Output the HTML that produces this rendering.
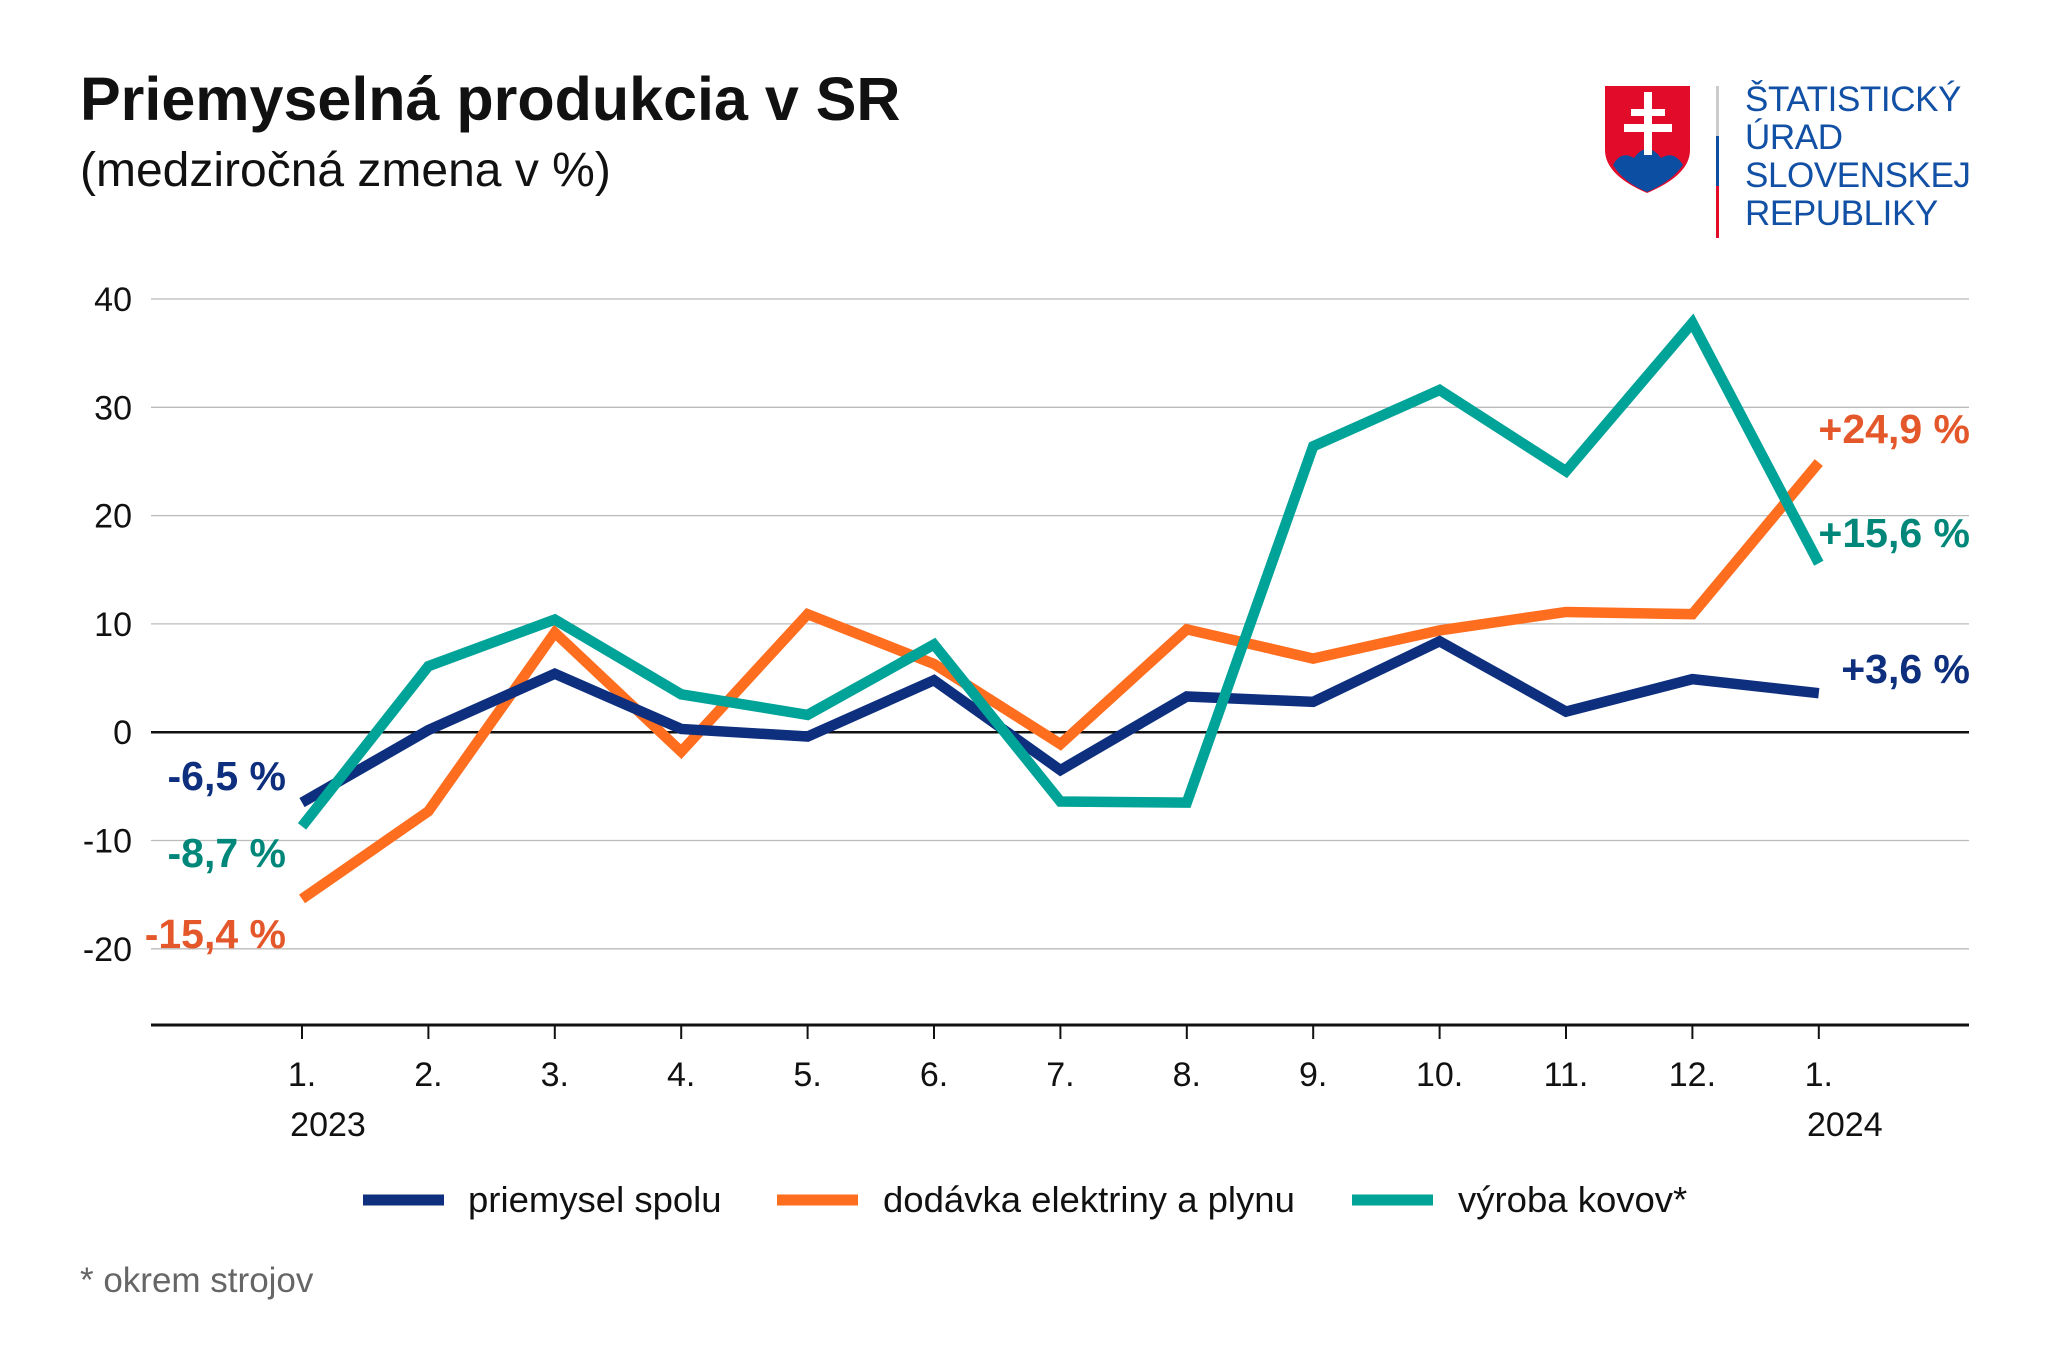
<!DOCTYPE html>
<html><head><meta charset="utf-8"><style>
body{margin:0;background:#fff;}
svg{display:block;font-family:"Liberation Sans",sans-serif;}
</style></head><body>
<svg id="chart" width="2048" height="1365" viewBox="0 0 2048 1365">
<text x="80" y="120" font-size="61" font-weight="bold" fill="#111">Priemyselná produkcia v SR</text>
<text x="80" y="186" font-size="48" fill="#111">(medziročná zmena v %)</text>
<g transform="translate(-9,0)">
<path d="M1614,86 L1699,86 L1699,150 Q1699,175 1656,193 Q1614,175 1614,150 Z" fill="#e30b2a"/>
<path d="M1622,165 Q1630,150 1643,158 Q1656,140 1670,158 Q1683,150 1692,165 Q1680,182 1656,192 Q1632,182 1622,165 Z" fill="#0b4ea2"/>
<rect x="1653" y="92" width="8" height="63" fill="#fff"/>
<rect x="1640" y="109" width="34" height="7" fill="#fff"/>
<rect x="1633" y="124" width="48" height="8" fill="#fff"/>
<rect x="1725" y="86" width="3" height="50" fill="#ccc"/>
<rect x="1725" y="136" width="3" height="50" fill="#0b4ea2"/>
<rect x="1725" y="186" width="3" height="52" fill="#e30b2a"/>
</g>
<g font-size="35" fill="#1150a5" letter-spacing="-0.4">
<text x="1745" y="111">ŠTATISTICKÝ</text>
<text x="1745" y="149">ÚRAD</text>
<text x="1745" y="187">SLOVENSKEJ</text>
<text x="1745" y="225">REPUBLIKY</text>
</g>
<g id="grid"></g><g id="lines"></g><g id="labels"></g>
<g font-size="36.5" fill="#111">
<line x1="363" y1="1200" x2="444" y2="1200" stroke="#0d2f7e" stroke-width="11"/>
<text x="468" y="1212">priemysel spolu</text>
<line x1="777" y1="1200" x2="858" y2="1200" stroke="#ff6d1f" stroke-width="11"/>
<text x="883" y="1212">dodávka elektriny a plynu</text>
<line x1="1352" y1="1200" x2="1433" y2="1200" stroke="#00a397" stroke-width="11"/>
<text x="1458" y="1212">výroba kovov*</text>
</g>
<text x="80" y="1292" font-size="35" fill="#666">* okrem strojov</text>
</svg>
<script>
const months=["1.","2.","3.","4.","5.","6.","7.","8.","9.","10.","11.","12.","1."];
const yTicks=[40,30,20,10,0,-10,-20];
const priemysel=[-6.5,0.2,5.4,0.3,-0.4,4.8,-3.5,3.3,2.8,8.4,1.9,4.9,3.6];
const dodavka=[-15.4,-7.3,9.2,-1.8,10.9,6.3,-1.1,9.5,6.8,9.4,11.1,10.9,24.9];
const vyroba=[-8.7,6.1,10.4,3.5,1.6,8.1,-6.4,-6.5,26.4,31.6,24.1,37.8,15.6];
const NS="http://www.w3.org/2000/svg";
const X=i=>302+i*126.4;
const Y=v=>732.2-v*10.83;
function mk(tag,attrs,parent,txt){const e=document.createElementNS(NS,tag);for(const k in attrs)e.setAttribute(k,attrs[k]);if(txt!=null)e.textContent=txt;parent.appendChild(e);return e;}
const grid=document.getElementById('grid');
yTicks.forEach(t=>{
 const l=mk('line',{x1:151,x2:1969,y1:Y(t),y2:Y(t),stroke:t===0?'#111':'#bbb','stroke-width':t===0?2.5:1.3},grid);
 
 
 const tx=mk('text',{x:132,y:Y(t)+12,'text-anchor':'end','font-size':34,fill:'#111'},grid,String(t));
 
 
});
const ax=mk('line',{x1:151,x2:1969,y1:1025,y2:1025,stroke:'#111','stroke-width':3},grid);


months.forEach((m,i)=>{
 mk('line',{x1:X(i),x2:X(i),y1:1025,y2:1039,stroke:'#111','stroke-width':2},grid);
 const t=mk('text',{x:X(i),y:1086,'text-anchor':'middle','font-size':34,fill:'#111'},grid,m);
 
 
});
const y1=mk('text',{x:X(0)+26,y:1136,'text-anchor':'middle','font-size':34,fill:'#111'},grid,'2023');


const y2=mk('text',{x:X(12)+26,y:1136,'text-anchor':'middle','font-size':34,fill:'#111'},grid,'2024');


const lines=document.getElementById('lines');
[[dodavka,'#ff6d1f','line-dodavka'],[priemysel,'#0d2f7e','line-priemysel'],[vyroba,'#00a397','line-vyroba']].forEach(([d,c,n])=>{
 const p=mk('polyline',{points:d.map((v,i)=>X(i)+','+Y(v)).join(' '),fill:'none',stroke:c,'stroke-width':10.5,'stroke-linejoin':'miter'},lines);
 
 
});
const fmt=v=>(v>0?'+':'')+v.toFixed(1).replace('.',',')+' %';
const labels=document.getElementById('labels');
const lab=(txt,x,y,anchor,c,n)=>{const t=mk('text',{x:x,y:y,'text-anchor':anchor,'font-size':41,'font-weight':'bold',fill:c},labels,txt);
 
 };
lab(fmt(priemysel[0]),286,790,'end','#0d2f7e','label-priemysel-start');
lab(fmt(vyroba[0]),286,867,'end','#00877a','label-vyroba-start');
lab(fmt(dodavka[0]),286,948,'end','#e4572a','label-dodavka-start');
lab(fmt(dodavka[12]),1970,443,'end','#e4572a','label-dodavka-end');
lab(fmt(vyroba[12]),1970,547,'end','#00877a','label-vyroba-end');
lab(fmt(priemysel[12]),1970,683,'end','#0d2f7e','label-priemysel-end');
</script>
</body></html>
